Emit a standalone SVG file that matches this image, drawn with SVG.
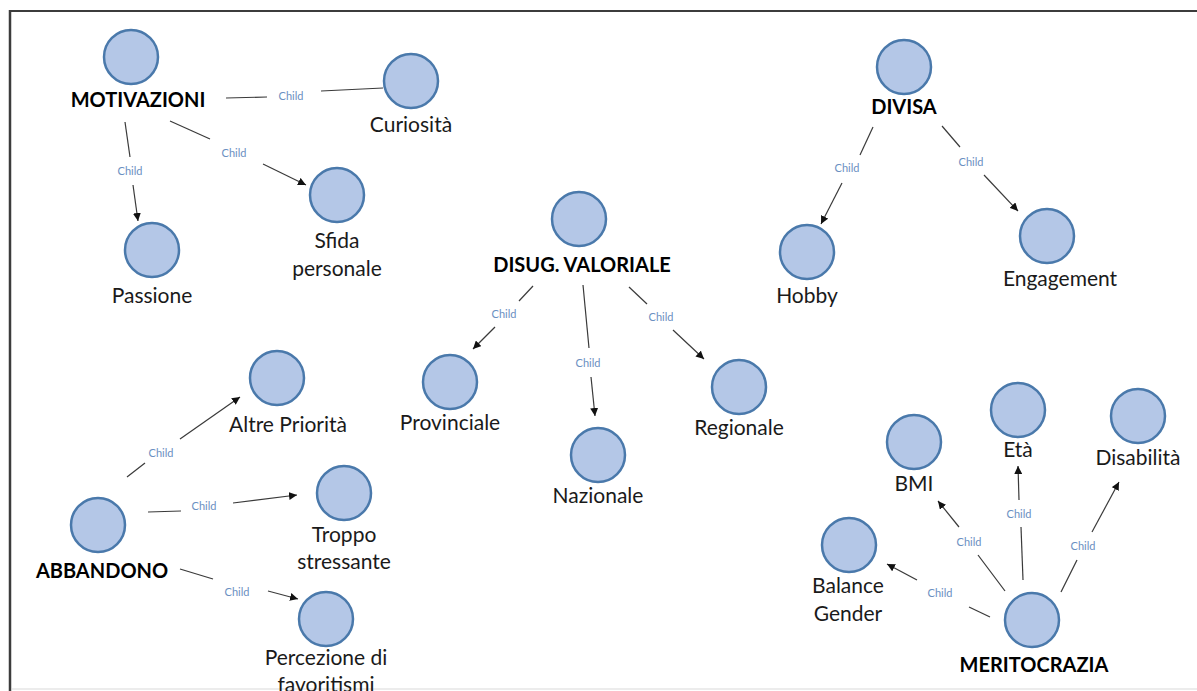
<svg xmlns="http://www.w3.org/2000/svg" width="1197" height="691" viewBox="0 0 1197 691">
  <defs>
    <marker id="arrow" viewBox="0 0 10 10" refX="10" refY="5" markerWidth="8" markerHeight="8" markerUnits="userSpaceOnUse" orient="auto">
      <path d="M0,0 L10,5 L0,10 z" fill="#111"/>
    </marker>
    <style>
      .node circle { fill: #b4c7e7; stroke: #4a79ab; stroke-width: 2.5; }
      .lbl { font-family: Lato, "Liberation Sans", sans-serif; font-size: 21px; fill: #1a1a1a; text-anchor: middle; }
      .root { font-size: 20px; font-weight: bold; fill: #000; }
      .edge line { stroke: #3a3a3a; stroke-width: 1.2; }
      .edge line.end { marker-end: url(#arrow); }
      .child { font-family: Lato, "Liberation Sans", sans-serif; font-size: 11px; fill: #6b8fc2; text-anchor: middle; }
    </style>
  </defs>

  <rect width="1197" height="691" fill="#fff"/>
  <!-- frame -->
  <line x1="9" y1="11" x2="1197" y2="11" stroke="#3c3c3c" stroke-width="2"/>
  <line x1="10" y1="10" x2="10" y2="691" stroke="#3c3c3c" stroke-width="2.5"/>
  <line x1="12" y1="689" x2="1197" y2="689" stroke="#e6e6e6" stroke-width="1.5"/>

  <!-- connectors -->
  <g id="connectors">
    <!-- MOTIVAZIONI -->
    <g class="edge">
      <line x1="226" y1="98" x2="267" y2="97"/>
      <line x1="321" y1="91" x2="383" y2="88"/>
      <text class="child" x="291" y="100">Child</text>
    </g>
    <g class="edge">
      <line x1="125" y1="122" x2="130" y2="157"/>
      <line class="end" x1="133" y1="185" x2="138" y2="221"/>
      <text class="child" x="130" y="175">Child</text>
    </g>
    <g class="edge">
      <line x1="170" y1="121" x2="210" y2="139"/>
      <line class="end" x1="263" y1="164" x2="306" y2="185"/>
      <text class="child" x="234" y="157">Child</text>
    </g>
    <!-- ABBANDONO -->
    <g class="edge">
      <line x1="127" y1="477" x2="145" y2="463"/>
      <line class="end" x1="180" y1="439" x2="240" y2="397"/>
      <text class="child" x="161" y="457">Child</text>
    </g>
    <g class="edge">
      <line x1="148" y1="512" x2="181" y2="511"/>
      <line class="end" x1="233" y1="503" x2="297" y2="495"/>
      <text class="child" x="204" y="510">Child</text>
    </g>
    <g class="edge">
      <line x1="180" y1="569" x2="213" y2="579"/>
      <line class="end" x1="268" y1="591" x2="298" y2="599"/>
      <text class="child" x="237" y="596">Child</text>
    </g>
    <!-- DISUG. VALORIALE -->
    <g class="edge">
      <line x1="533" y1="286" x2="519" y2="301"/>
      <line class="end" x1="495" y1="327" x2="473" y2="349"/>
      <text class="child" x="504" y="318">Child</text>
    </g>
    <g class="edge">
      <line x1="583" y1="285" x2="589" y2="348"/>
      <line class="end" x1="591" y1="377" x2="595" y2="416"/>
      <text class="child" x="588" y="367">Child</text>
    </g>
    <g class="edge">
      <line x1="629" y1="287" x2="647" y2="304"/>
      <line class="end" x1="673" y1="330" x2="704" y2="359"/>
      <text class="child" x="661" y="321">Child</text>
    </g>
    <!-- DIVISA -->
    <g class="edge">
      <line x1="873" y1="127" x2="860" y2="155"/>
      <line class="end" x1="842" y1="183" x2="821" y2="224"/>
      <text class="child" x="847" y="172">Child</text>
    </g>
    <g class="edge">
      <line x1="942" y1="126" x2="960" y2="147"/>
      <line class="end" x1="984" y1="175" x2="1018" y2="211"/>
      <text class="child" x="971" y="166">Child</text>
    </g>
    <!-- MERITOCRAZIA -->
    <g class="edge">
      <line x1="990" y1="617" x2="969" y2="607"/>
      <line class="end" x1="917" y1="580" x2="887" y2="564"/>
      <text class="child" x="940" y="597">Child</text>
    </g>
    <g class="edge">
      <line x1="1005" y1="591" x2="978" y2="555"/>
      <line class="end" x1="959" y1="527" x2="938" y2="501"/>
      <text class="child" x="969" y="546">Child</text>
    </g>
    <g class="edge">
      <line x1="1023" y1="580" x2="1021" y2="527"/>
      <line class="end" x1="1019" y1="500" x2="1018" y2="466"/>
      <text class="child" x="1019" y="518">Child</text>
    </g>
    <g class="edge">
      <line x1="1061" y1="592" x2="1077" y2="560"/>
      <line class="end" x1="1092" y1="532" x2="1119" y2="482"/>
      <text class="child" x="1083" y="550">Child</text>
    </g>
  </g>

  <!-- nodes -->
  <g id="motivazioni" class="node">
    <circle cx="131" cy="57" r="27"/>
    <text class="lbl root" x="138" y="107">MOTIVAZIONI</text>
  </g>
  <g id="curiosita" class="node">
    <circle cx="411" cy="81" r="27"/>
    <text class="lbl" x="411" y="132">Curiosità</text>
  </g>
  <g id="passione" class="node">
    <circle cx="152" cy="250" r="27"/>
    <text class="lbl" x="152" y="303">Passione</text>
  </g>
  <g id="sfida" class="node">
    <circle cx="337" cy="195" r="27"/>
    <text class="lbl" x="337" y="248">Sfida</text>
    <text class="lbl" x="337" y="276">personale</text>
  </g>

  <g id="abbandono" class="node">
    <circle cx="98" cy="525" r="27"/>
    <text class="lbl root" x="102" y="578">ABBANDONO</text>
  </g>
  <g id="altre-priorita" class="node">
    <circle cx="277" cy="378" r="27"/>
    <text class="lbl" x="288" y="432">Altre Priorità</text>
  </g>
  <g id="troppo-stressante" class="node">
    <circle cx="344" cy="493" r="27"/>
    <text class="lbl" x="344" y="542">Troppo</text>
    <text class="lbl" x="344" y="569">stressante</text>
  </g>
  <g id="favoritismi" class="node">
    <circle cx="326" cy="619" r="27"/>
    <text class="lbl" x="326" y="665">Percezione di</text>
    <text class="lbl" x="326" y="692">favoritismi</text>
  </g>

  <g id="disug-valoriale" class="node">
    <circle cx="579" cy="219" r="27"/>
    <text class="lbl root" x="582" y="272">DISUG. VALORIALE</text>
  </g>
  <g id="provinciale" class="node">
    <circle cx="450" cy="382" r="27"/>
    <text class="lbl" x="450" y="430">Provinciale</text>
  </g>
  <g id="nazionale" class="node">
    <circle cx="598" cy="455" r="27"/>
    <text class="lbl" x="598" y="503">Nazionale</text>
  </g>
  <g id="regionale" class="node">
    <circle cx="739" cy="387" r="27"/>
    <text class="lbl" x="739" y="435">Regionale</text>
  </g>

  <g id="divisa" class="node">
    <circle cx="904" cy="67" r="27"/>
    <text class="lbl root" x="904" y="114">DIVISA</text>
  </g>
  <g id="hobby" class="node">
    <circle cx="807" cy="252" r="27"/>
    <text class="lbl" x="807" y="303">Hobby</text>
  </g>
  <g id="engagement" class="node">
    <circle cx="1047" cy="236" r="27"/>
    <text class="lbl" x="1060" y="286">Engagement</text>
  </g>

  <g id="meritocrazia" class="node">
    <circle cx="1032" cy="620" r="27"/>
    <text class="lbl root" x="1034" y="672">MERITOCRAZIA</text>
  </g>
  <g id="bmi" class="node">
    <circle cx="914" cy="442" r="27"/>
    <text class="lbl" x="914" y="491">BMI</text>
  </g>
  <g id="eta" class="node">
    <circle cx="1018" cy="410" r="27"/>
    <text class="lbl" x="1018" y="457">Età</text>
  </g>
  <g id="disabilita" class="node">
    <circle cx="1138" cy="416" r="27"/>
    <text class="lbl" x="1138" y="465">Disabilità</text>
  </g>
  <g id="balance-gender" class="node">
    <circle cx="849" cy="545" r="27"/>
    <text class="lbl" x="848" y="593">Balance</text>
    <text class="lbl" x="848" y="621">Gender</text>
  </g>
</svg>
